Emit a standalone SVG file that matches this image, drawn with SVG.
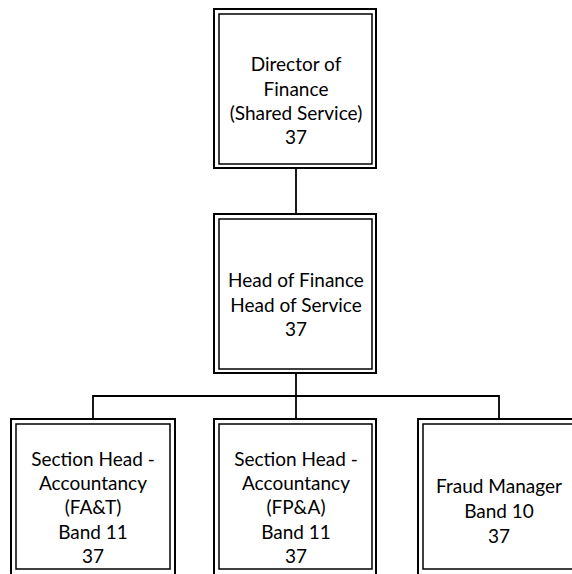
<svg xmlns="http://www.w3.org/2000/svg" width="572" height="574" viewBox="0 0 572 574">
<style>
.o{fill:#fff;stroke:#000;stroke-width:2}
.i{fill:none;stroke:#000;stroke-width:1.5}
.c{fill:none;stroke:#000;stroke-width:1.8}
text{font-family:Lato,"Open Sans","Liberation Sans",sans-serif;font-size:19px;fill:#000;text-anchor:middle}
</style>
<rect width="572" height="574" fill="#fff"/>
<g id="connectors">
<line class="c" x1="296" y1="168" x2="296" y2="214"/>
<line class="c" x1="296" y1="373" x2="296" y2="396"/>
<polyline class="c" points="93,419 93,396 499,396 499,419"/>
<line class="c" x1="296" y1="396" x2="296" y2="419"/>
</g>
<g id="director">
<rect class="o" x="214" y="9" width="162" height="159"/>
<rect class="i" x="219" y="14" width="153" height="150"/>
<text x="296" y="71">Director of</text>
<text x="296" y="95.5">Finance</text>
<text x="296" y="120">(Shared Service)</text>
<text x="296" y="144">37</text>
</g>
<g id="head">
<rect class="o" x="214" y="214" width="162" height="159"/>
<rect class="i" x="219" y="219" width="153" height="150"/>
<text x="296" y="287">Head of Finance</text>
<text x="296" y="311.5">Head of Service</text>
<text x="296" y="336">37</text>
</g>
<g id="fat">
<rect class="o" x="11" y="419" width="164" height="159"/>
<rect class="i" x="16" y="424" width="154" height="145"/>
<text x="93" y="465.5">Section Head -</text>
<text x="93" y="490">Accountancy</text>
<text x="93" y="514">(FA&amp;T)</text>
<text x="93" y="538.5">Band 11</text>
<text x="93" y="563">37</text>
</g>
<g id="fpa">
<rect class="o" x="214" y="419" width="162" height="159"/>
<rect class="i" x="219" y="424" width="153" height="145"/>
<text x="296" y="465.5">Section Head -</text>
<text x="296" y="490">Accountancy</text>
<text x="296" y="514">(FP&amp;A)</text>
<text x="296" y="538.5">Band 11</text>
<text x="296" y="563">37</text>
</g>
<g id="fraud">
<rect class="o" x="418" y="419" width="164" height="159"/>
<rect class="i" x="423" y="424" width="154" height="145"/>
<text x="499" y="493">Fraud Manager</text>
<text x="499" y="518">Band 10</text>
<text x="499" y="542.5">37</text>
</g>
</svg>
